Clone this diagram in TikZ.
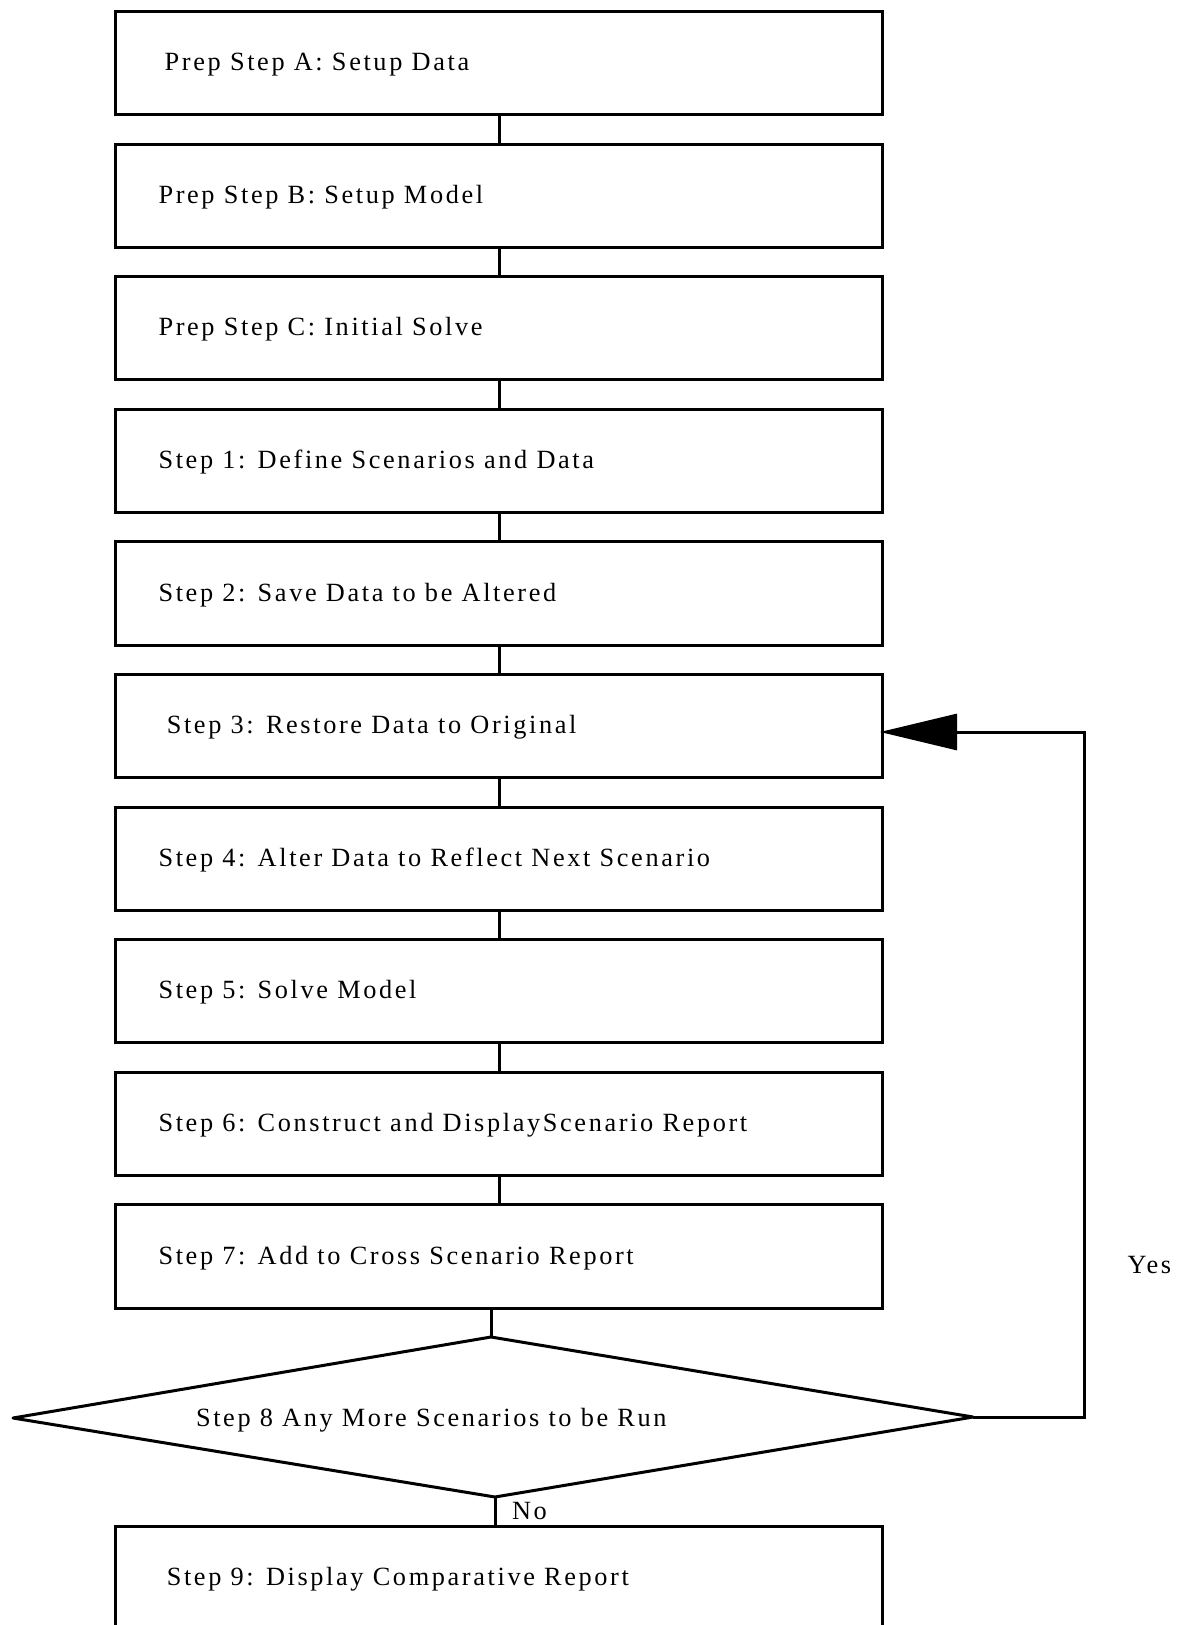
\documentclass[tikz,border=0pt]{standalone}
\usepackage{fontspec}
\setmainfont{Liberation Serif}[LetterSpace=10]
\usetikzlibrary{arrows.meta}
\begin{document}
\begin{tikzpicture}[x=0.5pt,y=-0.5pt, line width=1.5pt,
  box/.style={draw, rectangle, minimum width=383.5pt, minimum height=51.6pt, inner sep=0pt, anchor=north west},
  lbl/.style={anchor=base west, inner sep=0pt, font=\fontsize{13.15}{15}\selectfont},
  conn/.style={draw, line cap=butt},
  back/.style={draw, -{Triangle[length=38.5pt,width=18pt]}}]
\useasboundingbox (0,0) rectangle (1178,1625);
% boxes
\node[box] (pa) at (114,10) {};
\node[box] (pb) at (114,142.6) {};
\node[box] (pc) at (114,275.2) {};
\node[box] (s1) at (114,407.8) {};
\node[box] (s2) at (114,540.4) {};
\node[box] (s3) at (114,673) {};
\node[box] (s4) at (114,805.6) {};
\node[box] (s5) at (114,938.2) {};
\node[box] (s6) at (114,1070.8) {};
\node[box] (s7) at (114,1203.4) {};
\node[box] (s9) at (114,1524.5) {};
% labels
\node[lbl] (ta) at (163.2,70.7) {Prep Step A: Setup Data};
\node[lbl] (tb) at (157,203.3) {Prep Step B: Setup Model};
\node[lbl] (tc) at (157,335.9) {Prep Step C: Initial Solve};
\node[lbl] (t1) at (157,468.5) {Step 1: Define Scenarios and Data};
\node[lbl] (t2) at (157,601.1) {Step 2: Save Data to be Altered};
\node[lbl] (t3) at (165.3,733.7) {Step 3: Restore Data to Original};
\node[lbl] (t4) at (157,866.3) {Step 4: Alter Data to Reflect Next Scenario};
\node[lbl] (t5) at (157,998.9) {Step 5: Solve Model};
\node[lbl] (t6) at (157,1131.5) {Step 6: Construct and DisplayScenario Report};
\node[lbl] (t7) at (157,1264.1) {Step 7: Add to Cross Scenario Report};
\node[lbl] (t8) at (194.5,1426.5) {Step 8 Any More Scenarios to be Run};
\node[lbl] (t9) at (165.3,1585) {Step 9: Display Comparative Report};
\node[lbl] (yes) at (1126,1273) {Yes};
\node[lbl] (no) at (510.5,1519) {No};
% decision diamond
\coordinate (dl) at (13,1418);
\coordinate (dt) at (491,1337);
\coordinate (dr) at (973,1417);
\coordinate (db) at (495,1497);
\draw[line join=round] (dl) -- (dt) -- (dr) -- (db) -- cycle;
% connectors
\path[conn] (pa.south) -- (pb.north);
\path[conn] (pb.south) -- (pc.north);
\path[conn] (pc.south) -- (s1.north);
\path[conn] (s1.south) -- (s2.north);
\path[conn] (s2.south) -- (s3.north);
\path[conn] (s3.south) -- (s4.north);
\path[conn] (s4.south) -- (s5.north);
\path[conn] (s5.south) -- (s6.north);
\path[conn] (s6.south) -- (s7.north);
\path[conn] (s7.south -| dt) -- (dt);
\path[conn] (db) -- (s9.north -| db);
% loop back
\coordinate (turn) at (1084,1417);
\coordinate (tip) at (880,732);
\path[back] (dr) -- (turn) |- (tip);
\end{tikzpicture}
\end{document}
